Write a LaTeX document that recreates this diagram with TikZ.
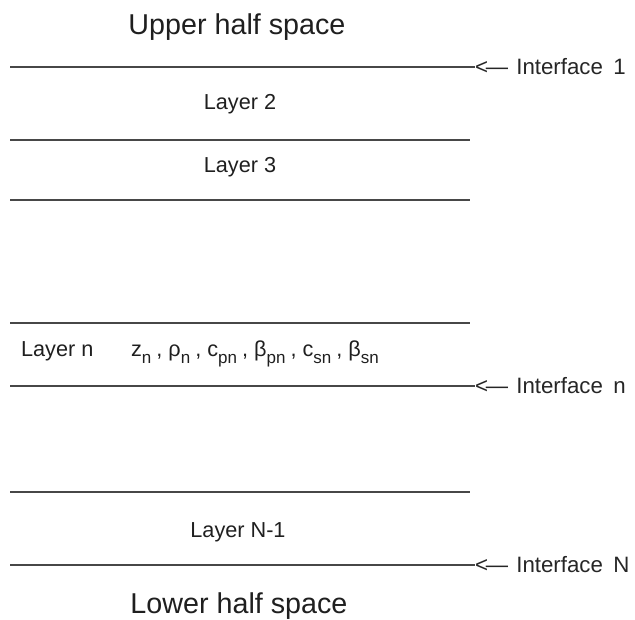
\documentclass[tikz,border=0pt]{standalone}
\usepackage{fontspec}
\setmainfont{Liberation Sans}
\newcommand{\lsub}[1]{\raisebox{-0.6ex}{\fontsize{14.5}{14}\selectfont #1}}
\tikzset{
  layerline/.style={line width=1.1pt, draw=black!72},
  halftext/.style={font=\fontsize{24.5}{28}\selectfont, anchor=base, text=black!88},
  layertext/.style={font=\fontsize{18.5}{22}\selectfont, anchor=base, text=black!88},
  ifacetext/.style={font=\fontsize{19}{22}\selectfont, anchor=west, inner sep=0pt, text=black!85},
}

\begin{document}
\begin{tikzpicture}[x=0.03cm, y=-0.03cm]
  \useasboundingbox (0,0) rectangle (635,620);

  \node[halftext] (upper) at (237,35) {Upper half space};
  \node[halftext] (lower) at (239,613) {Lower half space};

  % interfaces
  \foreach \y/\n [count=\i] in {67/1, 386/n, 565/N} {
    \coordinate (if\i) at (10,\y);
    \node[ifacetext] (iflab\i) at (475,\y)
      {<\kern-2pt—\hspace{7pt}Interface\hspace{9pt}\n};
    \draw[layerline] (if\i) -- (iflab\i.west);
  }

  % layer boundaries
  \foreach \y [count=\i] in {140, 200, 323, 492} {
    \coordinate (lb\i) at (10,\y);
    \coordinate (le\i) at (470,\y);
    \draw[layerline] (lb\i) -- (le\i);
  }

  \node[layertext] (layer2) at (240,110) {Layer 2};
  \node[layertext] (layer3) at (240,173) {Layer 3};
  \node[layertext, anchor=base west] (layern) at (17,357) {Layer n};
  \node[layertext, anchor=base west] (params) at (127,357)
    {z\lsub{n}\,\kern1.2pt, ρ\lsub{n}\,\kern1.2pt, c\lsub{pn}\,\kern1.2pt, β\lsub{pn}\,\kern1.2pt, c\lsub{sn}\,\kern1.2pt, β\lsub{sn}};
  \node[layertext] (layerN) at (238,537) {Layer N-1};
\end{tikzpicture}
\end{document}
